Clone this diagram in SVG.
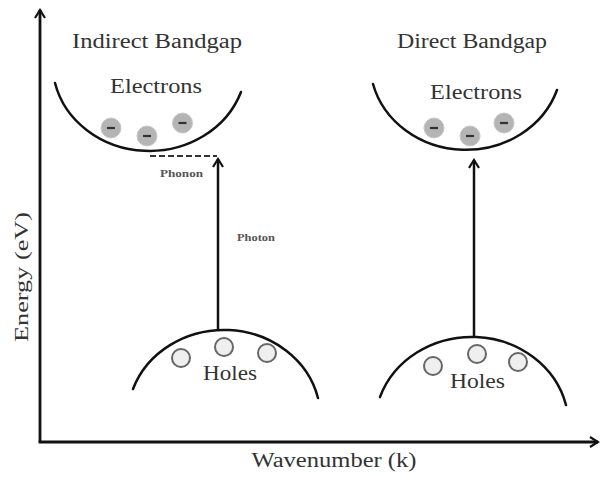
<svg xmlns="http://www.w3.org/2000/svg" width="601" height="477" viewBox="0 0 601 477">
<style>
.band{fill:none;stroke:#111;stroke-width:2.5;stroke-linecap:round}
.ax{fill:none;stroke:#111;stroke-width:2.8}
.arr{fill:none;stroke:#111;stroke-width:2.5}
.t{font-family:"Liberation Serif","DejaVu Serif",serif;fill:#333}
.big{font-size:20px}
.sm{font-size:10px;fill:#555;font-weight:bold}
.el{fill:#b4b4b4;stroke:#c8c8c8;stroke-width:1}
.minus{stroke:#333;stroke-width:2.2}
.hole{fill:#efefef;stroke:#666;stroke-width:2}
</style>
<defs>
<marker id="ah" viewBox="0 0 12 12" refX="10" refY="6" markerWidth="12" markerHeight="12" markerUnits="userSpaceOnUse" orient="auto">
<path d="M2,1 L10,6 L2,11" fill="none" stroke="#111" stroke-width="2.2"/>
</marker>
</defs>
<rect width="601" height="477" fill="#fff"/>
<g id="axes">
<path class="ax" d="M40,442 L40,10" marker-end="url(#ah)"/>
<path class="ax" d="M38.6,442 L598,442" marker-end="url(#ah)"/>
<text class="t" font-size="18" transform="translate(28,277) rotate(-90)" text-anchor="middle" textLength="130" lengthAdjust="spacingAndGlyphs">Energy (eV)</text>
<text class="t big" x="334" y="467" text-anchor="middle" textLength="165" lengthAdjust="spacingAndGlyphs">Wavenumber (k)</text>
</g>
<g id="indirect-title"><text class="t big" x="72" y="48" textLength="170" lengthAdjust="spacingAndGlyphs">Indirect Bandgap</text></g>
<g id="direct-title"><text class="t big" x="397" y="48" textLength="150" lengthAdjust="spacingAndGlyphs">Direct Bandgap</text></g>
<g id="indirect-electrons">
<path class="band" d="M55,83 A97 88 0 0 0 241,92"/>
<text class="t big" x="110" y="93" textLength="92" lengthAdjust="spacingAndGlyphs">Electrons</text>
<circle class="el" cx="111" cy="128" r="10"/><line class="minus" x1="107" y1="128" x2="115" y2="128"/>
<circle class="el" cx="147" cy="136" r="10"/><line class="minus" x1="143" y1="136" x2="151" y2="136"/>
<circle class="el" cx="182.5" cy="123" r="10"/><line class="minus" x1="178.5" y1="123" x2="186.5" y2="123"/>
</g>
<g id="direct-electrons">
<path class="band" d="M373,84 A96 87.7 0 0 0 557,90"/>
<text class="t big" x="430" y="99" textLength="92" lengthAdjust="spacingAndGlyphs">Electrons</text>
<circle class="el" cx="434" cy="128" r="10"/><line class="minus" x1="430" y1="128" x2="438" y2="128"/>
<circle class="el" cx="470" cy="136" r="10"/><line class="minus" x1="466" y1="136" x2="474" y2="136"/>
<circle class="el" cx="504" cy="123" r="10"/><line class="minus" x1="500" y1="123" x2="508" y2="123"/>
</g>
<g id="indirect-holes">
<path class="band" d="M133,389 A96.5 88.3 0 0 1 318,398"/>
<circle class="hole" cx="181" cy="358" r="9"/>
<circle class="hole" cx="224" cy="347" r="9"/>
<circle class="hole" cx="267" cy="353" r="9"/>
<text class="t big" x="203" y="380" textLength="54" lengthAdjust="spacingAndGlyphs">Holes</text>
</g>
<g id="direct-holes">
<path class="band" d="M380,397 A97 89 0 0 1 566,405"/>
<circle class="hole" cx="433" cy="366" r="9"/>
<circle class="hole" cx="477" cy="354" r="9"/>
<circle class="hole" cx="518" cy="362" r="9"/>
<text class="t big" x="450" y="388" textLength="55" lengthAdjust="spacingAndGlyphs">Holes</text>
</g>
<g id="connectors">
<path class="arr" d="M218,330 L218,159" marker-end="url(#ah)"/>
<line x1="150" y1="156" x2="217" y2="156" stroke="#333" stroke-width="1.8" stroke-dasharray="6,3"/>
<path class="arr" d="M474,337 L474,160" marker-end="url(#ah)"/>
<text class="t sm" x="160" y="177" textLength="43" lengthAdjust="spacingAndGlyphs">Phonon</text>
<text class="t sm" x="237" y="241" textLength="38" lengthAdjust="spacingAndGlyphs">Photon</text>
</g>
</svg>
